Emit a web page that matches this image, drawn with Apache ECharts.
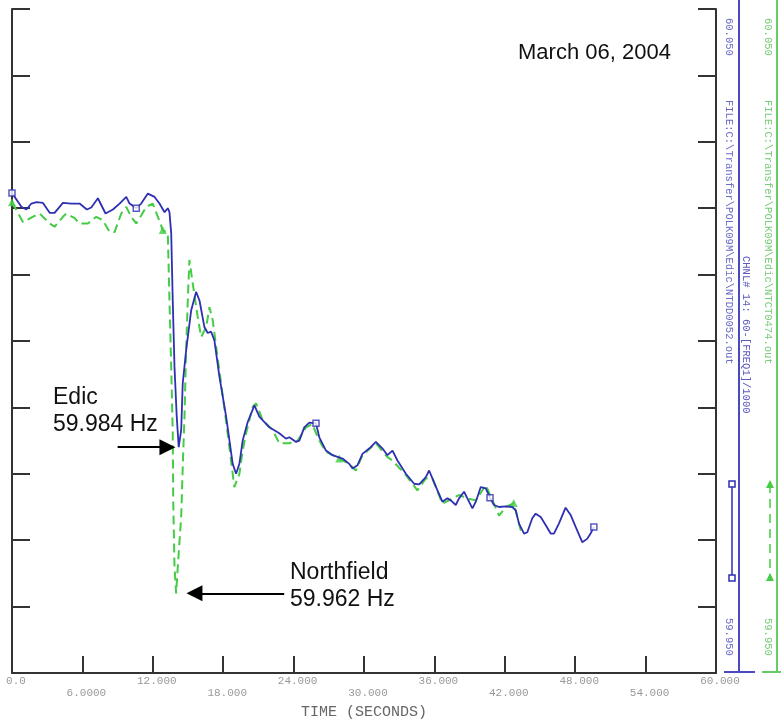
<!DOCTYPE html>
<html>
<head>
<meta charset="utf-8">
<script src="https://cdn.jsdelivr.net/npm/echarts@6/dist/echarts.min.js"></script>
<style>html,body{margin:0;padding:0;background:#fff}#c{width:781px;height:719px}</style>
</head>
<body>
<div id="c"></div>
<script>
// ---- data (time in seconds, frequency in Hz) ----
const xTickLabels = ['0.0','6.0000','12.000','18.000','24.000','30.000','36.000','42.000','48.000','54.000','60.000'];

const edicPoints = [
[0,60.0223],[0.80,60.0202],[1.23,60.0198],[1.65,60.0207],[2.08,60.0209],[2.64,60.0208],[3.21,60.0193],[3.63,60.0193],
[4.34,60.0208],[5.06,60.0207],[5.76,60.0207],[6.38,60.0198],[6.76,60.0201],[7.32,60.0215],[7.97,60.0192],[8.60,60.0198],
[9.17,60.0207],[9.74,60.0217],[10.02,60.0207],[10.59,60.0200],[11.01,60.0207],[11.58,60.0222],[12.15,60.0217],[12.57,60.0207],
[13.00,60.0194],[13.28,60.0200],[13.42,60.0194],[13.57,60.0162],[13.70,60.0061],[13.85,59.9961],[14.04,59.9886],[14.21,59.9840],
[14.42,59.9866],[14.55,59.9936],[14.84,59.9986],[15.27,60.0046],[15.69,60.0074],[15.98,60.0061],[16.40,60.0021],[16.68,60.0012],
[16.97,60.0014],[17.25,60.0001],[17.68,59.9946],[18.25,59.9886],[18.81,59.9815],[19.10,59.9800],[19.38,59.9815],[19.66,59.9850],
[20.09,59.9878],[20.66,59.9903],[21.08,59.9886],[21.93,59.9870],[22.78,59.9861],[23.35,59.9853],[23.64,59.9855],[24.21,59.9848],
[24.49,59.9850],[24.91,59.9870],[25.34,59.9877],[25.91,59.9876],[26.19,59.9855],[26.76,59.9835],[27.32,59.9828],[28.17,59.9823],
[28.74,59.9815],[29.02,59.9808],[29.45,59.9813],[29.87,59.9830],[30.44,59.9838],[31.01,59.9848],[31.58,59.9838],[32.00,59.9828],
[32.43,59.9835],[32.85,59.9820],[33.57,59.9800],[34.27,59.9785],[34.70,59.9784],[35.27,59.9795],[35.55,59.9805],[35.83,59.9793],
[36.26,59.9775],[36.68,59.9758],[37.11,59.9763],[37.40,59.9760],[37.82,59.9753],[38.10,59.9763],[38.53,59.9773],[38.81,59.9763],
[39.24,59.9748],[39.53,59.9758],[39.95,59.9780],[40.38,59.9778],[40.74,59.9764],[41.08,59.9753],[41.51,59.9750],[42.08,59.9751],
[42.64,59.9750],[42.93,59.9745],[43.21,59.9725],[43.64,59.9710],[43.92,59.9712],[44.34,59.9733],[44.63,59.9740],[45.06,59.9735],
[45.48,59.9723],[45.91,59.9710],[46.19,59.9710],[46.61,59.9725],[47.18,59.9749],[47.61,59.9738],[48.04,59.9720],[48.60,59.9697],
[49.02,59.9702],[49.31,59.9710],[49.59,59.9720]
];
const edicMarkerIdx = [0,19,59,92,114];

const northfieldPoints = [
[0,60.0209],[0.94,60.0179],[1.76,60.0187],[2.36,60.0192],[3.21,60.0177],[3.63,60.0172],[4.34,60.0187],[4.63,60.0192],
[5.34,60.0185],[5.76,60.0177],[6.47,60.0177],[7.18,60.0187],[7.74,60.0182],[8.32,60.0164],[8.74,60.0164],[9.31,60.0192],
[9.74,60.0202],[10.16,60.0187],[10.59,60.0177],[11.01,60.0189],[11.44,60.0202],[12.00,60.0207],[12.43,60.0187],[12.85,60.0167],
[13.28,60.0162],[13.42,60.0061],[13.57,59.9961],[13.70,59.9861],[13.74,59.9760],[13.85,59.9660],[13.99,59.9620],[14.13,59.9660],
[14.42,59.9735],[14.55,59.9810],[14.70,59.9886],[14.84,59.9986],[14.98,60.0061],[15.12,60.0122],[15.40,60.0087],[15.83,60.0036],
[16.12,60.0006],[16.55,60.0021],[16.83,60.0051],[17.11,60.0031],[17.40,59.9991],[17.82,59.9936],[18.38,59.9861],[18.95,59.9780],
[19.38,59.9800],[19.66,59.9835],[19.95,59.9861],[20.51,59.9901],[20.80,59.9906],[21.36,59.9881],[22.21,59.9866],[22.78,59.9846],
[23.63,59.9846],[24.34,59.9850],[25.06,59.9870],[25.59,59.9875],[26.19,59.9850],[26.76,59.9833],[27.89,59.9823],[28.74,59.9815],
[29.31,59.9805],[29.87,59.9828],[31.01,59.9846],[32.00,59.9825],[32.43,59.9820],[33.57,59.9798],[34.55,59.9775],[35.27,59.9793],
[35.83,59.9793],[36.68,59.9755],[38.10,59.9768],[38.81,59.9763],[39.53,59.9760],[40.38,59.9783],[41.51,59.9737],[42.10,59.9750],
[42.76,59.9756],[43.36,59.9715],[43.64,59.9710]
];
const northfieldMarkerIdx = [0,23,62,80];

// annotation arrows: [fromTime, toTime, frequency]
const edicArrow = [9.0, 13.25, 59.984];
const northfieldArrow = [23.2, 15.55, 59.962];

const BLUE = '#2f2fb4';
const GREEN = '#44cc44';
const MONO = "'Liberation Mono','DejaVu Sans Mono',monospace";
const SANS = "'Liberation Sans',Arial,sans-serif";

const chart = echarts.init(document.getElementById('c'));

function yAxisCfg(pos){
  return {
    type:'value', position:pos, min:59.95, max:60.05, interval:0.01,
    axisLine:{show:true, lineStyle:{color:'#333', width:2}},
    axisTick:{show:true, inside:true, length:18, lineStyle:{color:'#333', width:2}},
    axisLabel:{show:false}, splitLine:{show:false}
  };
}

function vtext(x, y, text, color, size){
  return {type:'text', x:x, y:y, rotation:-Math.PI/2, silent:true,
    style:{text:text, fill:color, font:(size||10.5)+'px '+MONO, textAlign:'left', textVerticalAlign:'middle'}};
}

const arrowLine = {silent:true, symbol:['none','triangle'], symbolSize:16, label:{show:false},
  lineStyle:{color:'#000', width:2, type:'solid'}, emphasis:{disabled:true}};

const option = {
  animation:false,
  grid:{left:12, right:65, top:9, bottom:46, containLabel:false, outerBoundsMode:'none'},
  xAxis:{
    type:'value', min:0, max:60, interval:6,
    axisLine:{onZero:false, lineStyle:{color:'#333', width:2}},
    axisTick:{inside:true, length:17, lineStyle:{color:'#333', width:2}},
    splitLine:{show:false},
    axisLabel:{
      margin:2, fontFamily:MONO, fontSize:11, color:'#999', lineHeight:12, padding:[0,0,0,8],
      formatter:function(v){ const i=Math.round(v/6); const s=xTickLabels[i]; return (i%2)?('\n'+s):s; }
    },
    name:'TIME (SECONDS)', nameLocation:'middle', nameGap:32,
    nameTextStyle:{fontFamily:MONO, fontSize:15, color:'#666', verticalAlign:'top'}
  },
  yAxis:[yAxisCfg('left'), yAxisCfg('right')],
  series:[
    {type:'line', name:'Northfield', data:northfieldPoints, symbol:'none', z:2,
     lineStyle:{color:GREEN, width:2, type:[9,5]},
     markLine:Object.assign({}, arrowLine, {
       data:[[{coord:[northfieldArrow[0],northfieldArrow[2]]},{coord:[northfieldArrow[1],northfieldArrow[2]]}]]})},
    {type:'scatter', data:northfieldMarkerIdx.map(i=>northfieldPoints[i]), symbol:'triangle', symbolSize:8, z:3,
     itemStyle:{color:GREEN}},
    {type:'line', name:'Edic', data:edicPoints, symbol:'none', z:4,
     lineStyle:{color:BLUE, width:1.8},
     markLine:Object.assign({}, arrowLine, {
       data:[[{coord:[edicArrow[0],edicArrow[2]]},{coord:[edicArrow[1],edicArrow[2]]}]]})},
    {type:'scatter', data:edicMarkerIdx.map(i=>edicPoints[i]), symbol:'rect', symbolSize:6, z:5,
     itemStyle:{color:'#fff', borderColor:BLUE, borderWidth:1.5}}
  ],
  graphic:[
    {type:'text', left:518, top:42, silent:true, style:{text:'March 06, 2004', fill:'#111', font:'22px '+SANS}},
    {type:'text', left:53, top:386, silent:true, style:{text:'Edic', fill:'#111', font:'23px '+SANS}},
    {type:'text', left:53, top:413, silent:true, style:{text:'59.984 Hz', fill:'#111', font:'23px '+SANS}},
    {type:'text', left:290, top:561, silent:true, style:{text:'Northfield', fill:'#111', font:'23px '+SANS}},
    {type:'text', left:290, top:588, silent:true, style:{text:'59.962 Hz', fill:'#111', font:'23px '+SANS}},
    // right-side channel axes
    {type:'line', silent:true, shape:{x1:739,y1:0,x2:739,y2:672}, style:{stroke:'#4a4abf', lineWidth:2}},
    {type:'line', silent:true, shape:{x1:724,y1:672,x2:755,y2:672}, style:{stroke:'#4a4abf', lineWidth:2}},
    {type:'line', silent:true, shape:{x1:777,y1:0,x2:777,y2:672}, style:{stroke:'#66cc66', lineWidth:2}},
    {type:'line', silent:true, shape:{x1:762,y1:672,x2:781,y2:672}, style:{stroke:'#66cc66', lineWidth:2}},
    // channel legend keys
    {type:'line', silent:true, shape:{x1:732,y1:484,x2:732,y2:578}, style:{stroke:BLUE, lineWidth:1.5}},
    {type:'rect', silent:true, shape:{x:729,y:481,width:6,height:6}, style:{fill:'#fff', stroke:BLUE, lineWidth:1.5}},
    {type:'rect', silent:true, shape:{x:729,y:575,width:6,height:6}, style:{fill:'#fff', stroke:BLUE, lineWidth:1.5}},
    {type:'line', silent:true, shape:{x1:770,y1:484,x2:770,y2:578}, style:{stroke:GREEN, lineWidth:1.5, lineDash:[9,6]}},
    {type:'polygon', silent:true, shape:{points:[[770,480],[766,488],[774,488]]}, style:{fill:GREEN}},
    {type:'polygon', silent:true, shape:{points:[[770,573],[766,581],[774,581]]}, style:{fill:GREEN}},
    // vertical channel texts
    vtext(729, 18, '60.050', '#6a6ac8'),
    vtext(729, 100, 'FILE:C:\\Transfer\\POLK09M\\Edic\\NTDD0052.out', '#6a6ac8'),
    vtext(746, 256, 'CHNL# 14: 60-[FREQ1]/1000', '#5a5ac0'),
    vtext(729, 618, '59.950', '#6a6ac8'),
    vtext(768, 18, '60.050', '#77cc77'),
    vtext(768, 100, 'FILE:C:\\Transfer\\POLK09M\\Edic\\NTCT0474.out', '#77cc77'),
    vtext(768, 618, '59.950', '#77cc77')
  ]
};
chart.setOption(option);
</script>
</body>
</html>
